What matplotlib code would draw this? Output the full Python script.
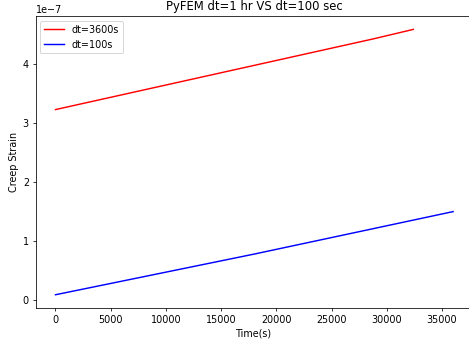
import matplotlib
matplotlib.use('Agg')
import matplotlib.pyplot as plt

# time (s) and creep strain
t_3600 = [0, 3600, 7200, 10800, 14400, 18000, 21600, 25200, 28800, 32400]
strain_3600 = [3.23e-7, 3.38e-7, 3.53e-7, 3.68e-7, 3.83e-7, 3.98e-7, 4.13e-7, 4.28e-7, 4.43e-7, 4.59e-7]

t_100 = [0, 6000, 12000, 18000, 24000, 30000, 36000]
strain_100 = [0.09e-7, 0.32e-7, 0.55e-7, 0.78e-7, 1.02e-7, 1.26e-7, 1.50e-7]

dpi = 69.5
fig = plt.figure(figsize=(469 / dpi, 343 / dpi), dpi=dpi)
# the reference is cropped on the right, so the axes run past the edge
ax = fig.add_axes([0.0759, 0.102, 1.0085 - 0.0759, 0.953 - 0.102])

ax.plot(t_3600, strain_3600, color='red', label='dt=3600s')
ax.plot(t_100, strain_100, color='blue', label='dt=100s')

ax.set_title('PyFEM dt=1 hr VS dt=100 sec')
ax.set_xlabel('Time(s)')
ax.set_ylabel('Creep Strain')
ax.legend(loc='upper left')

plt.savefig('out.png')
